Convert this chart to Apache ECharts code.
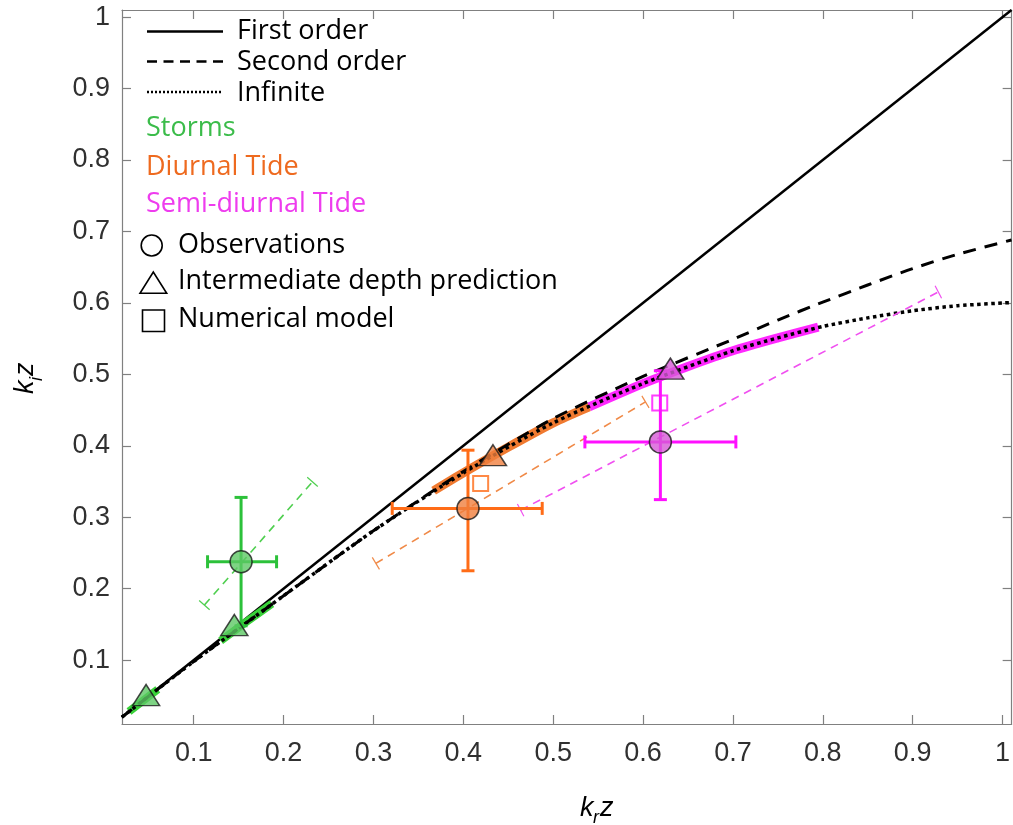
<!DOCTYPE html>
<html><head><meta charset="utf-8">
<script src="https://cdn.jsdelivr.net/npm/echarts@6/dist/echarts.min.js"></script>
<style>html,body{margin:0;padding:0;background:#fff}#c{width:1013px;height:825px}</style>
</head><body><div id="c"></div>
<script>
// ---------- data ----------
const tickValues = [0.1,0.2,0.3,0.4,0.5,0.6,0.7,0.8,0.9,1];
const tickLabels = ['0.1','0.2','0.3','0.4','0.5','0.6','0.7','0.8','0.9','1'];

const firstOrderX   = [0.02, 1.01];
const firstOrderY   = [0.02, 1.01];
const curveX        = [0.02, 0.1, 0.2, 0.3, 0.4, 0.5, 0.6, 0.7, 0.75, 0.8, 0.85, 0.9, 0.95, 1.01];
const secondOrderY  = [0.02, 0.098, 0.19, 0.281, 0.364, 0.438, 0.497, 0.549, 0.576, 0.601, 0.625, 0.648, 0.668, 0.688];
const infiniteY     = [0.02, 0.098, 0.19, 0.281, 0.362, 0.432, 0.487, 0.533, 0.551, 0.567, 0.579, 0.589, 0.596, 0.6005];

const stormsBandAX = [0.028, 0.06];          const stormsBandAY = [0.028, 0.059];
const stormsBandBX = [0.13, 0.158, 0.187];   const stormsBandBY = [0.127, 0.153, 0.179];
const diurnalBandX = [0.367, 0.4, 0.45, 0.5, 0.54];        const diurnalBandY = [0.337, 0.362, 0.398, 0.432, 0.4544];
const semiBandX    = [0.54, 0.6, 0.65, 0.7, 0.75, 0.795];  const semiBandY    = [0.4544, 0.487, 0.511, 0.533, 0.551, 0.566];

// observations: storms, diurnal, semi-diurnal
const obsX   = [0.1527, 0.4052, 0.6193];
const obsY   = [0.2376, 0.3123, 0.4054];
const obsXLo = [0.1154, 0.3209, 0.5353];
const obsXHi = [0.1922, 0.4878, 0.7033];
const obsYLo = [0.148, 0.225, 0.3246];
const obsYHi = [0.3277, 0.3938, 0.505];

// intermediate depth prediction (triangles)
const stormsTriX  = [0.047, 0.1452]; const stormsTriY  = [0.051, 0.149];
const diurnalTriX = [0.433];         const diurnalTriY = [0.3868];
const semiTriX    = [0.6304];        const semiTriY    = [0.508];

// numerical model (squares)
const modelX = [0.4193, 0.6186];
const modelY = [0.3472, 0.46];

// thin dashed fit lines: x1, y1, x2, y2
const fitX1 = [0.1119, 0.3027, 0.4638];
const fitY1 = [0.177, 0.2353, 0.3099];
const fitX2 = [0.2322, 0.6027, 0.9286];
const fitY2 = [0.3495, 0.4614, 0.6153];

// ---------- styles ----------
const C = {
  green: '#2cc13a', greenFill: '#5ec865', greenThin: '#4fcf4f', greenBand: '#3ad23a',
  orange: '#ff6c17', orangeFill: '#f0803e', orangeThin: '#f08a48', orangeBand: '#f07a30',
  mag: '#ff10ff', magFill: '#d65ad6', magThin: '#f050f0', magBand: '#ff28ff'
};
const obsColors = [C.green, C.orange, C.mag];
const fitColors = [C.greenThin, C.orangeThin, C.magThin];
const LEG_FONT = '27px "Open Sans"';

const zip = (xs, ys) => xs.map((x, i) => [x, ys[i]]);
const fmt = v => { const i = tickValues.findIndex(t => Math.abs(t - v) < 1e-6); return i >= 0 ? tickLabels[i] : ''; };

const axisCommon = {
  type: 'value',
  axisLine: { show: true, onZero: false, lineStyle: { color: '#808080', width: 1.2 } },
  axisTick: { show: true, inside: true, length: 9, customValues: tickValues, lineStyle: { color: '#808080', width: 1.2 } },
  axisLabel: { show: true, customValues: tickValues, formatter: fmt, color: '#303030', fontSize: 27, fontFamily: 'Liberation Sans, Arial' },
  splitLine: { show: false }
};

const chart = echarts.init(document.getElementById('c'), null, { renderer: 'canvas' });

const lineS = (name, xs, ys, style, z) => ({
  name, type: 'line', data: zip(xs, ys), symbol: 'none', smooth: 0.25,
  lineStyle: style, z, silent: true, animation: false
});

const option = {
  animation: false,
  backgroundColor: '#fff',
  grid: { left: 122, right: 0, top: 10, bottom: 101 },
  xAxis: [
    Object.assign({}, axisCommon, { min: 0.0202, max: 1.0102, position: 'bottom',
      axisLabel: Object.assign({}, axisCommon.axisLabel, { margin: 16 }) }),
    Object.assign({}, axisCommon, { min: 0.0202, max: 1.0102, position: 'top',
      axisLabel: { show: false } })
  ],
  yAxis: [
    Object.assign({}, axisCommon, { min: 0.0105, max: 1.0100, position: 'left',
      axisLabel: Object.assign({}, axisCommon.axisLabel, { margin: 12 }) }),
    Object.assign({}, axisCommon, { min: 0.0105, max: 1.0100, position: 'right',
      axisLabel: { show: false } })
  ],
  series: [
    lineS('First order', firstOrderX, firstOrderY, { color: '#000', width: 2.5 }, 5),
    lineS('Storms band A', stormsBandAX, stormsBandAY, { color: C.greenBand, width: 8, cap: 'butt' }, 6),
    lineS('Storms band B', stormsBandBX, stormsBandBY, { color: C.greenBand, width: 8, cap: 'butt' }, 6),
    lineS('Diurnal band', diurnalBandX, diurnalBandY, { color: C.orangeBand, width: 9, cap: 'butt' }, 6),
    lineS('Semi band', semiBandX, semiBandY, { color: C.magBand, width: 9, cap: 'butt' }, 6),
    lineS('Second order', curveX, secondOrderY, { color: '#000', width: 3, type: [13, 9], cap: 'butt' }, 7),
    lineS('Infinite', curveX, infiniteY, { color: '#000', width: 3.5, type: [3.5, 3.5], cap: 'butt' }, 8),
    {
      name: 'fits', type: 'custom', z: 9, silent: true, animation: false,
      data: fitX1.map((x, i) => [x, fitY1[i], fitX2[i], fitY2[i]]),
      encode: { x: [0, 2], y: [1, 3] },
      renderItem: (params, api) => {
        const p1 = api.coord([api.value(0), api.value(1)]);
        const p2 = api.coord([api.value(2), api.value(3)]);
        const dx = p2[0] - p1[0], dy = p2[1] - p1[1], L = Math.hypot(dx, dy);
        const nx = -dy / L * 7, ny = dx / L * 7;
        const col = fitColors[params.dataIndex];
        return { type: 'group', children: [
          { type: 'line', shape: { x1: p1[0], y1: p1[1], x2: p2[0], y2: p2[1] }, style: { stroke: col, lineWidth: 1.6, lineDash: [8, 6] } },
          { type: 'line', shape: { x1: p1[0] - nx, y1: p1[1] - ny, x2: p1[0] + nx, y2: p1[1] + ny }, style: { stroke: col, lineWidth: 1.2 } },
          { type: 'line', shape: { x1: p2[0] - nx, y1: p2[1] - ny, x2: p2[0] + nx, y2: p2[1] + ny }, style: { stroke: col, lineWidth: 1.2 } }
        ]};
      }
    },
    {
      name: 'errorbars', type: 'custom', z: 10, silent: true, animation: false,
      data: obsX.map((x, i) => [x, obsY[i], obsXLo[i], obsXHi[i], obsYLo[i], obsYHi[i]]),
      encode: { x: [0, 2, 3], y: [1, 4, 5] },
      renderItem: (params, api) => {
        const x = api.value(0), y = api.value(1);
        const a = api.coord([api.value(2), y]), b = api.coord([api.value(3), y]);
        const c = api.coord([x, api.value(4)]), d = api.coord([x, api.value(5)]);
        const col = obsColors[params.dataIndex], cap = 6.5;
        const st = { stroke: col, lineWidth: 3 };
        const L = (x1, y1, x2, y2) => ({ type: 'line', shape: { x1, y1, x2, y2 }, style: st });
        return { type: 'group', children: [
          L(a[0], a[1], b[0], b[1]), L(c[0], c[1], d[0], d[1]),
          L(a[0], a[1] - cap, a[0], a[1] + cap), L(b[0], b[1] - cap, b[0], b[1] + cap),
          L(c[0] - cap, c[1], c[0] + cap, c[1]), L(d[0] - cap, d[1], d[0] + cap, d[1])
        ]};
      }
    },
    { name: 'Numerical model', type: 'scatter', z: 11, silent: true, symbol: 'rect', symbolSize: 15,
      data: zip(modelX, modelY).map((p, i) => ({ value: p, itemStyle: { color: 'rgba(0,0,0,0)', borderColor: [C.orange, C.mag][i], borderWidth: 2 } })) },
    { name: 'Observations', type: 'scatter', z: 12, silent: true, symbol: 'circle', symbolSize: 22,
      data: zip(obsX, obsY).map((p, i) => ({ value: p, itemStyle: { color: [C.greenFill, C.orangeFill, C.magFill][i], borderColor: '#1a1a1a', borderWidth: 1.5 } })) },
    { name: 'Storms prediction', type: 'scatter', z: 12, silent: true, symbol: 'triangle', symbolSize: [27, 21],
      data: zip(stormsTriX, stormsTriY), itemStyle: { color: C.greenFill, borderColor: '#1a1a1a', borderWidth: 1.5 } },
    { name: 'Diurnal prediction', type: 'scatter', z: 12, silent: true, symbol: 'triangle', symbolSize: [27, 21],
      data: zip(diurnalTriX, diurnalTriY), itemStyle: { color: C.orangeFill, borderColor: '#1a1a1a', borderWidth: 1.5 } },
    { name: 'Semi prediction', type: 'scatter', z: 12, silent: true, symbol: 'triangle', symbolSize: [27, 21],
      data: zip(semiTriX, semiTriY), itemStyle: { color: C.magFill, borderColor: '#1a1a1a', borderWidth: 1.5 } }
  ],
  graphic: [
    { type: 'line', shape: { x1: 147, y1: 31.5, x2: 223, y2: 31.5 }, style: { stroke: '#000', lineWidth: 2.5 } },
    { type: 'line', shape: { x1: 147, y1: 61.5, x2: 223, y2: 61.5 }, style: { stroke: '#000', lineWidth: 2.5, lineDash: [10, 6.5] } },
    { type: 'line', shape: { x1: 147, y1: 92, x2: 223, y2: 92 }, style: { stroke: '#000', lineWidth: 2.5, lineDash: [2, 2] } },
    { type: 'text', x: 237, y: 31.5, style: { text: 'First order', fill: '#000', font: LEG_FONT, textVerticalAlign: 'middle' } },
    { type: 'text', x: 237, y: 62, style: { text: 'Second order', fill: '#000', font: LEG_FONT, textVerticalAlign: 'middle' } },
    { type: 'text', x: 237, y: 93, style: { text: 'Infinite', fill: '#000', font: LEG_FONT, textVerticalAlign: 'middle' } },
    { type: 'text', x: 146, y: 128, style: { text: 'Storms', fill: '#3bbc4a', font: LEG_FONT, textVerticalAlign: 'middle' } },
    { type: 'text', x: 146, y: 167, style: { text: 'Diurnal Tide', fill: '#ee6a1f', font: LEG_FONT, textVerticalAlign: 'middle' } },
    { type: 'text', x: 146, y: 204.5, style: { text: 'Semi-diurnal Tide', fill: '#ee3cee', font: LEG_FONT, textVerticalAlign: 'middle' } },
    { type: 'circle', shape: { cx: 151.7, cy: 245.5, r: 10.5 }, style: { fill: 'none', stroke: '#000', lineWidth: 1.6 } },
    { type: 'polygon', shape: { points: [[140, 293.3], [166.7, 293.3], [153.3, 272]] }, style: { fill: 'none', stroke: '#000', lineWidth: 1.6 } },
    { type: 'rect', shape: { x: 142.5, y: 310, width: 22, height: 21.5 }, style: { fill: 'none', stroke: '#000', lineWidth: 1.6 } },
    { type: 'text', x: 178, y: 245, style: { text: 'Observations', fill: '#000', font: LEG_FONT, textVerticalAlign: 'middle' } },
    { type: 'text', x: 178, y: 281.5, style: { text: 'Intermediate depth prediction', fill: '#000', font: LEG_FONT, textVerticalAlign: 'middle' } },
    { type: 'text', x: 178, y: 319, style: { text: 'Numerical model', fill: '#000', font: LEG_FONT, textVerticalAlign: 'middle' } },
    { type: 'text', x: 580, y: 808, style: { text: 'k', fill: '#000', font: 'italic 27px "Liberation Sans"', textVerticalAlign: 'middle' } },
    { type: 'text', x: 593, y: 818, style: { text: 'r', fill: '#000', font: 'italic 18px "Liberation Sans"', textVerticalAlign: 'middle' } },
    { type: 'text', x: 600, y: 808, style: { text: 'z', fill: '#000', font: 'italic 27px "Liberation Sans"', textVerticalAlign: 'middle' } },
    { type: 'group', x: 25, y: 394, rotation: Math.PI / 2, children: [
      { type: 'text', x: 0, y: 0, style: { text: 'k', fill: '#000', font: 'italic 27px "Liberation Sans"', textVerticalAlign: 'middle' } },
      { type: 'text', x: 13, y: 12, style: { text: 'i', fill: '#000', font: 'italic 18px "Liberation Sans"', textVerticalAlign: 'middle' } },
      { type: 'text', x: 18, y: 0, style: { text: 'z', fill: '#000', font: 'italic 27px "Liberation Sans"', textVerticalAlign: 'middle' } }
    ]}
  ]
};
chart.setOption(option);
</script>
</body></html>
